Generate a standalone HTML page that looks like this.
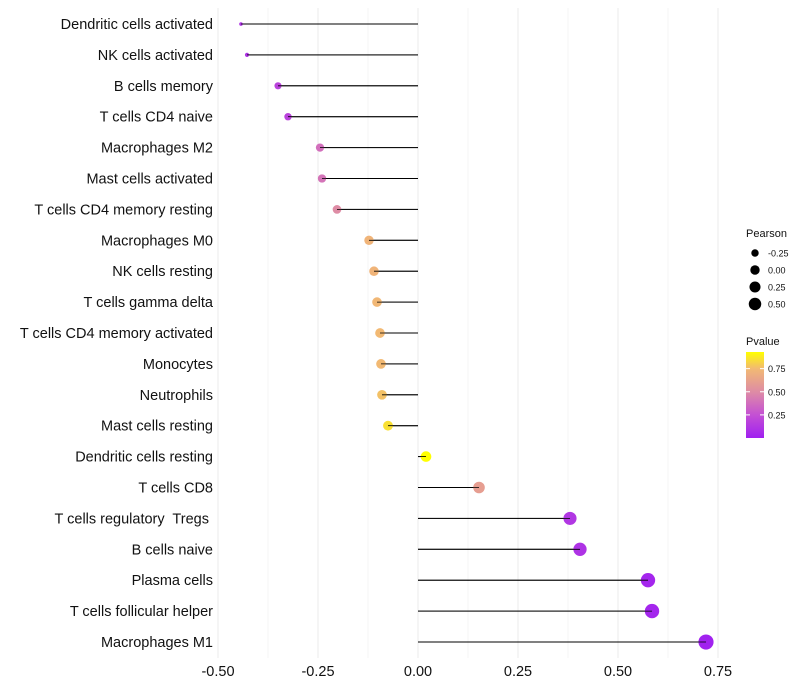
<!DOCTYPE html>
<html><head><meta charset="utf-8"><style>
body{margin:0;background:#fff;}
svg{display:block;font-family:"Liberation Sans",sans-serif;}
</style></head><body>
<svg id="chart" width="800" height="700" viewBox="0 0 800 700" xmlns="http://www.w3.org/2000/svg">
<g id="grid"></g>
<g id="marks"></g>
<g id="ylab"></g>
<g id="xlab"></g>
<g id="legend"></g>
</svg>
<script>
const categories=["Dendritic cells activated","NK cells activated","B cells memory","T cells CD4 naive","Macrophages M2","Mast cells activated","T cells CD4 memory resting","Macrophages M0","NK cells resting","T cells gamma delta","T cells CD4 memory activated","Monocytes","Neutrophils","Mast cells resting","Dendritic cells resting","T cells CD8","T cells regulatory  Tregs ","B cells naive","Plasma cells","T cells follicular helper","Macrophages M1"];
const pearson=[-0.4425,-0.4275,-0.35,-0.325,-0.245,-0.24,-0.2025,-0.1225,-0.11,-0.1025,-0.095,-0.0925,-0.09,-0.075,0.02,0.1525,0.38,0.405,0.575,0.585,0.72];
const pvalue=[0.1,0.1,0.18,0.18,0.38,0.4,0.5,0.72,0.72,0.74,0.75,0.75,0.77,0.85,0.93,0.6,0.12,0.1,0.03,0.03,0.01];
const xTicks=[-0.5,-0.25,0,0.25,0.5,0.75];
const xTickLabels=["-0.50","-0.25","0.00","0.25","0.50","0.75"];
const sizeLegend=[-0.25,0,0.25,0.5];
const colorTicks=[0.25,0.5,0.75];
const NS="http://www.w3.org/2000/svg";
const X=v=>418+v*400;
const Y=i=>24+i*30.9;
const R=v=>{const r2=23.4+35.6*v;return 1.08*(r2<9?1.6+(r2-7.5)*0.5:Math.sqrt(r2));};
const stops=[[0,[160,32,240]],[0.25,[196,80,212]],[0.5,[222,140,165]],[0.75,[242,185,115]],[0.93,[255,255,0]]];
function col(p){p=Math.min(0.93,Math.max(0,p));for(let k=1;k<stops.length;k++){if(p<=stops[k][0]){const a=stops[k-1],b=stops[k];const t=(p-a[0])/(b[0]-a[0]);const c=a[1].map((x,j)=>Math.round(x+(b[1][j]-x)*t));return `rgb(${c[0]},${c[1]},${c[2]})`;}}return 'rgb(255,255,0)';}
function mk(tag,attrs,parent){const e=document.createElementNS(NS,tag);for(const k in attrs)e.setAttribute(k,attrs[k]);parent.appendChild(e);return e;}
const grid=document.getElementById('grid'),marks=document.getElementById('marks'),ylab=document.getElementById('ylab'),xlab=document.getElementById('xlab'),leg=document.getElementById('legend');
for(let k=0;k<=10;k++){const v=-0.5+k*0.125;const major=k%2===0;const l=mk('line',{x1:X(v),x2:X(v),y1:8,y2:658,stroke:major?'#ebebeb':'#f3f3f3','stroke-width':major?1:0.8},grid);

}
xTicks.forEach((v,i)=>{const t=mk('text',{x:X(v),y:676,'text-anchor':'middle','font-size':14.5,fill:'#111'},xlab);t.textContent=xTickLabels[i];

});
categories.forEach((c,i)=>{
 const t=mk('text',{x:213,y:Y(i)+5,'text-anchor':'end','font-size':14.5,fill:'#111','xml:space':'preserve'},ylab);t.style.whiteSpace='pre';t.textContent=c;
 
 
 const l=mk('line',{x1:X(0),x2:X(pearson[i]),y1:Y(i),y2:Y(i),stroke:'#000','stroke-width':1},marks);
 
 
 const p=mk('circle',{cx:X(pearson[i]),cy:Y(i),r:R(pearson[i]),fill:col(pvalue[i])},marks);
 
 
 const l2=mk('line',{x1:X(0),x2:X(pearson[i]),y1:Y(i),y2:Y(i),stroke:'#000','stroke-width':0.8},marks);
 
 
});
let t=mk('text',{x:746,y:237,'font-size':11,fill:'#111'},leg);t.textContent="Pearson";


sizeLegend.forEach((v,i)=>{const y=253+i*17;const c=mk('circle',{cx:755,cy:y,r:R(v)*0.9,fill:'#000'},leg);


const tt=mk('text',{x:768,y:y+3.5,'font-size':9,fill:'#111'},leg);tt.textContent=v.toFixed(2);

});
t=mk('text',{x:746,y:345,'font-size':11,fill:'#111'},leg);t.textContent="Pvalue";


const defs=mk('defs',{},leg);const g=mk('linearGradient',{id:'pg',x1:0,y1:1,x2:0,y2:0},defs);
stops.forEach(s=>mk('stop',{offset:s[0]/0.93,'stop-color':`rgb(${s[1].join(',')})`},g));
const bar=mk('rect',{x:746,y:352,width:18,height:86,fill:'url(#pg)'},leg);


colorTicks.forEach(v=>{const y=438-v/0.93*86;mk('line',{x1:746,x2:750,y1:y,y2:y,stroke:'#fff'},leg);mk('line',{x1:760,x2:764,y1:y,y2:y,stroke:'#fff'},leg);
const tt=mk('text',{x:768,y:y+3.5,'font-size':9,fill:'#111'},leg);tt.textContent=v.toFixed(2);

});
</script>
</body></html>
